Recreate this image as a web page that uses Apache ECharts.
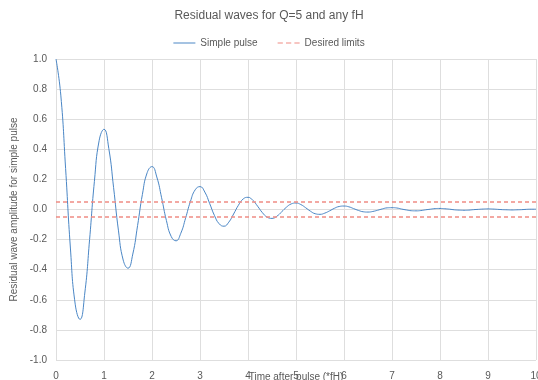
<!DOCTYPE html>
<html>
<head>
<meta charset="utf-8">
<script src="https://cdn.jsdelivr.net/npm/echarts@6/dist/echarts.min.js"></script>
<style>
html,body{margin:0;padding:0;background:#fff;}
#chart{width:538px;height:380px;}
</style>
</head>
<body>
<div id="chart"></div>
<script>
// time after pulse, step 0.1 (*fH)
var timeStep = 0.1;
// residual wave amplitude
var pulseValues = [
	1.000, 0.760, 0.273, -0.256, -0.629, -0.730, -0.555, -0.199, 0.187, 0.460,
	0.533, 0.405, 0.145, -0.137, -0.336, -0.390, -0.296, -0.106, 0.100, 0.245,
	0.285, 0.216, 0.078, -0.073, -0.179, -0.208, -0.158, -0.057, 0.053, 0.131,
	0.152, 0.116, 0.041, -0.039, -0.095, -0.111, -0.084, -0.030, 0.028, 0.070,
	0.081, 0.061, 0.022, -0.021, -0.051, -0.059, -0.045, -0.016, 0.015, 0.037,
	0.043, 0.033, 0.012, -0.011, -0.028, -0.032, -0.024, -0.009, 0.008, 0.020,
	0.023, 0.018, 0.006, -0.006, -0.015, -0.017, -0.013, -0.005, 0.004, 0.011,
	0.012, 0.010, 0.003, -0.003, -0.008, -0.009, -0.007, -0.002, 0.002, 0.006,
	0.007, 0.005, 0.002, -0.002, -0.004, -0.005, -0.004, -0.001, 0.001, 0.003,
	0.004, 0.003, 0.001, -0.001, -0.002, -0.003, -0.002, -0.001, 0.001, 0.002,
	0.002
];
var limitTimes = [0, 10];
var limitUpper = [0.05, 0.05];
var limitLower = [-0.05, -0.05];

var pulseData = [];
for (var i = 0; i < pulseValues.length; i++) {
	pulseData.push([+(i * timeStep).toFixed(1), pulseValues[i]]);
}
var upperData = limitTimes.map(function (t, k) { return [t, limitUpper[k]]; });
var lowerData = limitTimes.map(function (t, k) { return [t, limitLower[k]]; });

var textColor = '#595959';
var font = 'Liberation Sans, Arial, sans-serif';
var redLine = { color: '#f08c84', width: 1.5, type: [4, 3] };

var myChart = echarts.init(document.getElementById('chart'));
var option = {
	animation: false,
	backgroundColor: '#ffffff',
	textStyle: { fontFamily: font },
	title: {
		text: 'Residual waves for Q=5 and any fH',
		left: 'center',
		top: 5,
		textStyle: { fontSize: 12, fontWeight: 'normal', color: textColor, fontFamily: font }
	},
	legend: {
		top: 33,
		left: 'center',
		itemWidth: 22,
		itemHeight: 10,
		itemGap: 20,
		textStyle: { fontSize: 10, color: textColor, fontFamily: font },
		data: [
			{ name: 'Simple pulse', icon: 'path://M0,5 L22,5 L22,6 L0,6 Z' },
			{ name: 'Desired limits', icon: 'path://M0,5 L5,5 L5,6 L0,6 Z M8,5 L13,5 L13,6 L8,6 Z M16,5 L21,5 L21,6 L16,6 Z' }
		]
	},
	grid: { left: 56, right: 2, top: 59, bottom: 20, outerBoundsMode: 'none', containLabel: false },
	xAxis: {
		type: 'value',
		min: 0,
		max: 10,
		interval: 1,
		name: 'Time after pulse (*fH)',
		nameLocation: 'middle',
		nameGap: 12,
		nameMoveOverlap: false,
		nameTextStyle: { fontSize: 10, color: textColor, fontFamily: font },
		axisLine: { show: false },
		axisTick: { show: false },
		axisLabel: { fontSize: 10, color: textColor, margin: 11 },
		splitLine: { lineStyle: { color: '#dedede', width: 1 } }
	},
	yAxis: {
		type: 'value',
		min: -1,
		max: 1,
		interval: 0.2,
		name: 'Residual wave amplitude for simple pulse',
		nameLocation: 'middle',
		nameGap: 37,
		nameTextStyle: { fontSize: 10, color: textColor, fontFamily: font },
		axisLine: { show: false },
		axisTick: { show: false },
		axisLabel: {
			fontSize: 10,
			color: textColor,
			margin: 9,
			formatter: function (v) { return v.toFixed(1); }
		},
		splitLine: { lineStyle: { color: '#dedede', width: 1 } }
	},
	series: [
		{
			name: 'Simple pulse',
			type: 'line',
			data: pulseData,
			smooth: true,
			showSymbol: false,
			itemStyle: { color: '#4a86c5' },
			lineStyle: { color: '#4a86c5', width: 1 },
			z: 3
		},
		{
			name: 'Desired limits',
			type: 'line',
			data: upperData,
			showSymbol: false,
			itemStyle: { color: '#f08c84' },
			lineStyle: redLine
		},
		{
			name: 'Desired limits',
			type: 'line',
			data: lowerData,
			showSymbol: false,
			itemStyle: { color: '#f08c84' },
			lineStyle: redLine
		}
	]
};
myChart.setOption(option);
</script>
</body>
</html>
